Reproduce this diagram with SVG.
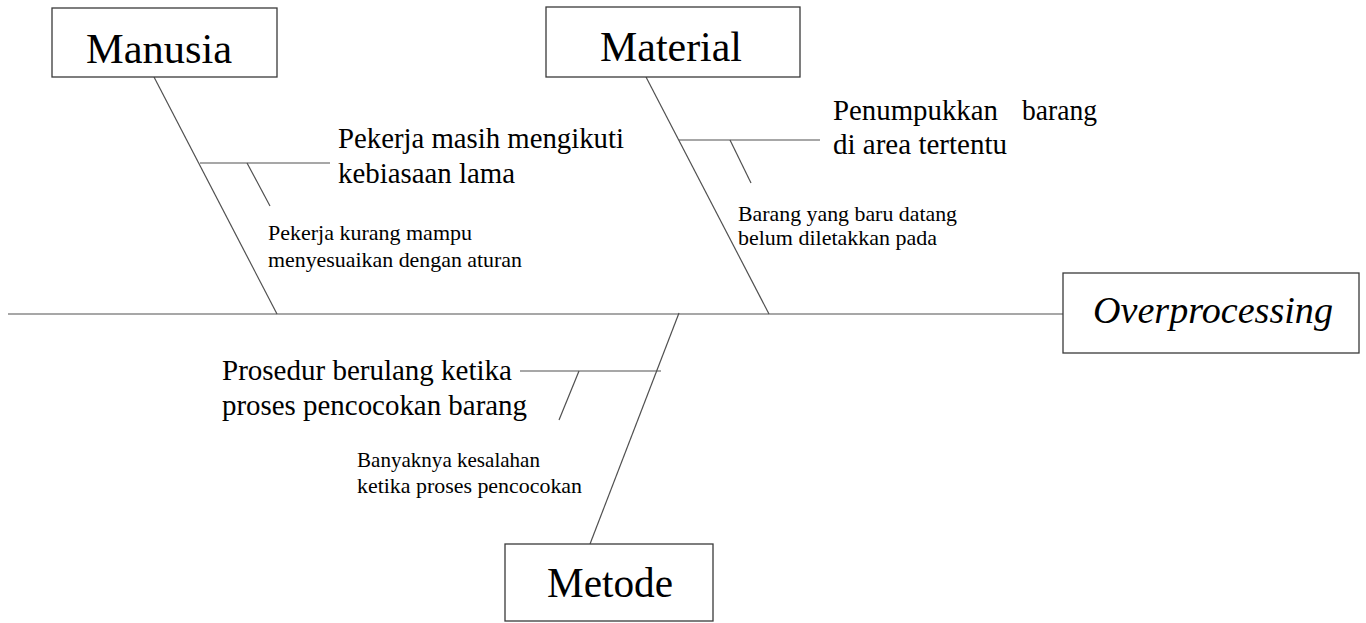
<svg xmlns="http://www.w3.org/2000/svg" width="1366" height="623" viewBox="0 0 1366 623">
  <style>
    .box { fill: #ffffff; stroke: #3a3a3a; stroke-width: 1.3; }
    .bone { fill: none; stroke: #505050; stroke-width: 1.2; }
    text { font-family: "Liberation Serif", "DejaVu Serif", "Times New Roman", Times, serif; fill: #000; }
    .title { font-size: 42px; }
    .head { font-size: 38px; font-style: italic; }
    .cause { font-size: 29px; }
    .sub { font-size: 22px; }
  </style>
  <rect width="1366" height="623" fill="#ffffff"/>

  <!-- fishbone spine, category bones and cause branches -->
  <g id="connectors">
    <line class="bone" x1="8" y1="314" x2="1063" y2="314"/>
    <!-- Manusia -->
    <line class="bone" x1="154" y1="77" x2="277" y2="314"/>
    <line class="bone" x1="200" y1="163" x2="330" y2="163"/>
    <line class="bone" x1="247" y1="163" x2="270" y2="206"/>
    <!-- Material -->
    <line class="bone" x1="646" y1="77" x2="769" y2="314"/>
    <line class="bone" x1="679" y1="140" x2="820" y2="140"/>
    <line class="bone" x1="730" y1="140" x2="751" y2="183"/>
    <!-- Metode -->
    <line class="bone" x1="679" y1="313" x2="590" y2="544"/>
    <line class="bone" x1="520" y1="371" x2="661" y2="371"/>
    <line class="bone" x1="579" y1="371" x2="559" y2="420"/>
  </g>

  <!-- category boxes -->
  <g id="manusia">
    <rect class="box" x="52" y="8" width="225" height="69"/>
    <text class="title" x="86" y="63" textLength="146" lengthAdjust="spacingAndGlyphs">Manusia</text>
  </g>
  <g id="material">
    <rect class="box" x="546" y="7" width="254" height="70"/>
    <text class="title" x="600" y="61" textLength="142" lengthAdjust="spacingAndGlyphs">Material</text>
  </g>
  <g id="metode">
    <rect class="box" x="505" y="544" width="208" height="77"/>
    <text class="title" x="547" y="597" textLength="126" lengthAdjust="spacingAndGlyphs">Metode</text>
  </g>
  <g id="overprocessing">
    <rect class="box" x="1063" y="273" width="296" height="80"/>
    <text class="head" x="1093" y="323" textLength="240" lengthAdjust="spacingAndGlyphs">Overprocessing</text>
  </g>

  <!-- causes -->
  <g id="cause-manusia-1">
    <text class="cause" x="338" y="148" textLength="286" lengthAdjust="spacingAndGlyphs">Pekerja masih mengikuti</text>
    <text class="cause" x="338" y="183" textLength="177" lengthAdjust="spacingAndGlyphs">kebiasaan lama</text>
  </g>
  <g id="cause-manusia-2">
    <text class="sub" x="268" y="240" textLength="204" lengthAdjust="spacingAndGlyphs">Pekerja kurang mampu</text>
    <text class="sub" x="268" y="267" textLength="254" lengthAdjust="spacingAndGlyphs">menyesuaikan dengan aturan</text>
  </g>
  <g id="cause-material-1">
    <text class="cause" x="833" y="120" textLength="165" lengthAdjust="spacingAndGlyphs">Penumpukkan</text>
    <text class="cause" x="1022" y="120" textLength="75" lengthAdjust="spacingAndGlyphs">barang</text>
    <text class="cause" x="833" y="154" textLength="174" lengthAdjust="spacingAndGlyphs">di area tertentu</text>
  </g>
  <g id="cause-material-2">
    <text class="sub" x="738" y="221" textLength="219" lengthAdjust="spacingAndGlyphs">Barang yang baru datang</text>
    <text class="sub" x="738" y="245" textLength="199" lengthAdjust="spacingAndGlyphs">belum diletakkan pada</text>
  </g>
  <g id="cause-metode-1">
    <text class="cause" x="222" y="380" textLength="290" lengthAdjust="spacingAndGlyphs">Prosedur berulang ketika</text>
    <text class="cause" x="222" y="415" textLength="305" lengthAdjust="spacingAndGlyphs">proses pencocokan barang</text>
  </g>
  <g id="cause-metode-2">
    <text class="sub" x="357" y="467" textLength="183" lengthAdjust="spacingAndGlyphs">Banyaknya kesalahan</text>
    <text class="sub" x="357" y="493" textLength="225" lengthAdjust="spacingAndGlyphs">ketika proses pencocokan</text>
  </g>
</svg>
